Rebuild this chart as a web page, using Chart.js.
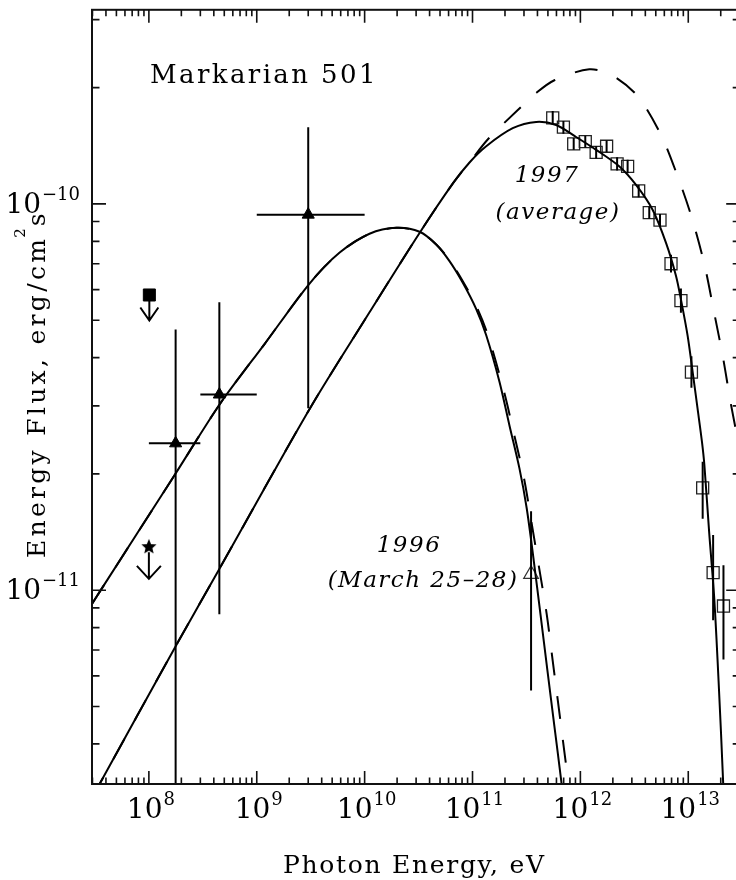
<!DOCTYPE html>
<html lang="en">
<head>
<meta charset="UTF-8">
<title>Markarian 501</title>
<script src="https://cdn.jsdelivr.net/npm/chart.js"></script>
<style>
  body { margin: 0; overflow: hidden; background: #fff; }
  #sed { display: block; }
</style>
</head>
<body>
<canvas id="sed" width="750" height="880"></canvas>
<script>
// ---- values ----
const xMajor = [1e8, 1e9, 1e10, 1e11, 1e12, 1e13];
const xMajorExp = ['8', '9', '10', '11', '12', '13'];
const yMajor = [1e-11, 1e-10];
const yMajorExp = ['\u221211', '\u221210'];

// model 1996, solid
const e96Solid = [2.96e7, 3.52e7, 1.74e8, 4.54e8, 1.19e9, 3.10e9, 5.87e9, 1.11e10, 1.97e10, 3.23e10, 4.61e10, 6.12e10, 8.13e10, 1.08e11, 1.34e11, 1.78e11, 2.20e11, 2.72e11, 3.18e11, 3.70e11, 4.27e11, 4.95e11, 5.74e11, 6.62e11, 6.97e11];
const f96Solid = [9.20e-12, 9.93e-12, 1.99e-11, 3.03e-11, 4.35e-11, 6.23e-11, 7.48e-11, 8.37e-11, 8.67e-11, 8.47e-11, 7.85e-11, 7.11e-11, 6.25e-11, 5.35e-11, 4.57e-11, 3.46e-11, 2.67e-11, 2.07e-11, 1.63e-11, 1.19e-11, 8.65e-12, 6.19e-12, 4.45e-12, 3.24e-12, 2.86e-12];
// model 1996, dashed
const e96Dash = [2.96e7, 3.52e7, 1.74e8, 4.54e8, 1.19e9, 3.10e9, 5.87e9, 1.11e10, 1.97e10, 3.23e10, 4.61e10, 6.12e10, 8.13e10, 1.08e11, 1.39e11, 1.94e11, 2.40e11, 3.00e11, 3.52e11, 4.17e11, 4.88e11, 5.54e11, 6.29e11, 7.11e11, 7.78e11, 8.07e11];
const f96Dash = [9.20e-12, 9.93e-12, 1.99e-11, 3.03e-11, 4.35e-11, 6.23e-11, 7.48e-11, 8.37e-11, 8.67e-11, 8.47e-11, 7.85e-11, 7.15e-11, 6.31e-11, 5.45e-11, 4.57e-11, 3.30e-11, 2.57e-11, 1.95e-11, 1.50e-11, 1.13e-11, 8.65e-12, 6.56e-12, 4.98e-12, 3.81e-12, 3.14e-12, 2.89e-12];

// model 1997, solid
const e97Solid = [2.96e7, 3.47e7, 1.74e8, 4.54e8, 3.10e9, 1.11e10, 3.23e10, 6.58e10, 9.38e10, 1.34e11, 2.36e11, 3.89e11, 5.96e11, 9.12e11, 1.40e12, 2.30e12, 3.28e12, 4.67e12, 6.22e12, 7.69e12, 8.55e12, 9.86e12, 1.10e13, 1.22e13, 1.34e13, 1.41e13, 1.56e13, 1.74e13, 1.91e13, 2.11e13, 2.16e13];
const f97Solid = [2.91e-12, 3.14e-12, 7.10e-12, 1.14e-11, 2.95e-11, 5.24e-11, 8.41e-11, 1.13e-10, 1.28e-10, 1.41e-10, 1.57e-10, 1.63e-10, 1.60e-10, 1.49e-10, 1.38e-10, 1.25e-10, 1.12e-10, 9.66e-11, 7.93e-11, 6.52e-11, 5.66e-11, 4.56e-11, 3.66e-11, 2.95e-11, 2.42e-11, 2.11e-11, 1.42e-11, 9.55e-12, 5.82e-12, 3.14e-12, 2.50e-12];
// model 1997, dashed
const e97Dash = [2.96e7, 3.47e7, 1.74e8, 4.54e8, 3.10e9, 1.11e10, 3.23e10, 6.58e10, 9.38e10, 1.39e11, 2.63e11, 3.83e11, 5.74e11, 1.21e12, 1.98e12, 3.40e12, 5.58e12, 7.96e12, 1.08e13, 1.41e13, 1.74e13, 2.11e13, 2.48e13, 3.03e13];
const f97Dash = [2.91e-12, 3.14e-12, 7.10e-12, 1.14e-11, 2.95e-11, 5.24e-11, 8.41e-11, 1.13e-10, 1.28e-10, 1.47e-10, 1.75e-10, 1.93e-10, 2.09e-10, 2.23e-10, 2.15e-10, 1.90e-10, 1.51e-10, 1.18e-10, 9.20e-11, 6.98e-11, 5.22e-11, 3.97e-11, 3.04e-11, 2.28e-11];

// 1997 TeV points (open squares)
const tevE = [5.54e11, 6.96e11, 8.67e11, 1.11e12, 1.40e12, 1.75e12, 2.19e12, 2.74e12, 3.47e12, 4.35e12, 5.47e12, 6.92e12, 8.55e12, 1.07e13, 1.36e13, 1.70e13, 2.12e13];
const tevF = [1.67e-10, 1.58e-10, 1.43e-10, 1.45e-10, 1.36e-10, 1.41e-10, 1.27e-10, 1.25e-10, 1.08e-10, 9.49e-11, 9.08e-11, 7.00e-11, 5.62e-11, 3.67e-11, 1.84e-11, 1.11e-11, 9.10e-12];
const tevHi = [1.74e-10, 1.64e-10, 1.48e-10, 1.50e-10, 1.41e-10, 1.46e-10, 1.32e-10, 1.30e-10, 1.12e-10, 9.85e-11, 9.42e-11, 7.38e-11, 6.04e-11, 4.03e-11, 2.15e-11, 1.39e-11, 1.16e-11];
const tevLo = [1.60e-10, 1.52e-10, 1.38e-10, 1.40e-10, 1.31e-10, 1.36e-10, 1.22e-10, 1.20e-10, 1.04e-10, 9.15e-11, 8.75e-11, 6.64e-11, 5.23e-11, 3.34e-11, 1.53e-11, 8.36e-12, 6.62e-12];

// 1996 TeV point (open triangle)
const tev96E = [3.49e11];
const tev96F = [1.10e-11];
const tev96Hi = [1.60e-11];
const tev96Lo = [5.50e-12];

// GeV points (filled triangles)
const gevE = [1.77e8, 4.5e8, 3.0e9];
const gevF = [2.40e-11, 3.21e-11, 9.38e-11];
const gevELo = [1.0e8, 3.0e8, 1.0e9];
const gevEHi = [3.0e8, 1.0e9, 1.0e10];
const gevHi = [4.73e-11, 5.56e-11, 1.58e-10];
const gevLo = [1.0e-13, 8.67e-12, 2.96e-11];

// upper limits (filled square, filled star)
const ulE = [1.01e8, 1.0e8];
const ulF = [5.81e-11, 1.30e-11];
const ulTip = [4.99e-11, 1.07e-11];

const SERIF = '"DejaVu Serif", "Liberation Serif", serif';

const toXY = (xs, ys) => xs.map((x, i) => ({ x: x, y: ys[i] }));

function makeStar(r) {
  const c = document.createElement('canvas');
  const s = Math.ceil(r * 2 + 2);
  c.width = s; c.height = s;
  const g = c.getContext('2d');
  g.translate(s / 2, s / 2 + 0.8);
  g.beginPath();
  for (let i = 0; i < 10; i++) {
    const rr = i % 2 ? r * 0.45 : r;
    const a = -Math.PI / 2 + i * Math.PI / 5;
    g.lineTo(rr * Math.cos(a), rr * Math.sin(a));
  }
  g.closePath();
  g.fillStyle = '#000';
  g.fill();
  return c;
}

// error bars and upper-limit arrows
const errorBars = {
  id: 'errorBars',
  afterDatasetsDraw(chart) {
    const { ctx, chartArea: a, scales: { x, y } } = chart;
    ctx.save();
    ctx.beginPath();
    ctx.rect(a.left, a.top, a.right - a.left, a.bottom - a.top);
    ctx.clip();
    ctx.strokeStyle = '#000';
    ctx.lineWidth = 2;
    ctx.beginPath();
    gevE.forEach((e, i) => {
      const px = x.getPixelForValue(e), py = y.getPixelForValue(gevF[i]);
      ctx.moveTo(px, y.getPixelForValue(gevHi[i]));
      ctx.lineTo(px, y.getPixelForValue(gevLo[i]));
      ctx.moveTo(x.getPixelForValue(gevELo[i]), py);
      ctx.lineTo(x.getPixelForValue(gevEHi[i]), py);
    });
    tevE.forEach((e, i) => {
      const px = x.getPixelForValue(e);
      ctx.moveTo(px, y.getPixelForValue(tevHi[i]));
      ctx.lineTo(px, y.getPixelForValue(tevLo[i]));
    });
    tev96E.forEach((e, i) => {
      const px = x.getPixelForValue(e);
      ctx.moveTo(px, y.getPixelForValue(tev96Hi[i]));
      ctx.lineTo(px, y.getPixelForValue(tev96Lo[i]));
    });
    ctx.stroke();

    // arrows below the upper limits
    const meta = chart.getDatasetMeta(7);
    const heads = [[9, 13], [12, 13]];
    ctx.beginPath();
    meta.data.forEach((pt, i) => {
      const tip = y.getPixelForValue(ulTip[i]);
      ctx.moveTo(pt.x, pt.y + 6);
      ctx.lineTo(pt.x, tip);
      ctx.moveTo(pt.x - heads[i][0], tip - heads[i][1]);
      ctx.lineTo(pt.x, tip);
      ctx.lineTo(pt.x + heads[i][0], tip - heads[i][1]);
    });
    ctx.stroke();
    ctx.restore();
  }
};

function drawPow(ctx, exp, x, baseline, align) {
  ctx.font = '28px ' + SERIF;
  const w1 = ctx.measureText('10').width;
  ctx.font = '18px ' + SERIF;
  const w2 = ctx.measureText(exp).width;
  const total = w1 + 1 + w2;
  const left = align === 'center' ? x - total / 2 : x - total;
  ctx.font = '28px ' + SERIF;
  ctx.fillText('10', left, baseline);
  ctx.font = '18px ' + SERIF;
  ctx.fillText(exp, left + w1 + 1, baseline - 13);
}

// frame, inward ticks, labels and annotations
const frame = {
  id: 'frame',
  afterDraw(chart) {
    const { ctx, chartArea: a, scales: { x, y } } = chart;
    ctx.save();
    ctx.strokeStyle = '#111';
    ctx.lineWidth = 2;
    ctx.strokeRect(a.left, a.top, a.right - a.left, a.bottom - a.top);

    ctx.lineWidth = 1.6;
    ctx.beginPath();
    for (let d = 1e7; d <= 1e13; d *= 10) {
      for (let k = 1; k <= 9; k++) {
        const v = k * d;
        if (v <= x.min || v >= x.max) continue;
        const px = x.getPixelForValue(v);
        const len = k === 1 ? 13 : 6.5;
        ctx.moveTo(px, a.bottom); ctx.lineTo(px, a.bottom - len);
        ctx.moveTo(px, a.top); ctx.lineTo(px, a.top + len);
      }
    }
    for (let d = 1e-12; d <= 1e-10; d *= 10) {
      for (let k = 1; k <= 9; k++) {
        const v = k * d;
        if (v <= y.min || v >= y.max) continue;
        const py = y.getPixelForValue(v);
        const len = k === 1 ? 14 : 7.5;
        ctx.moveTo(a.left, py); ctx.lineTo(a.left + len, py);
        ctx.moveTo(a.right, py); ctx.lineTo(a.right - len, py);
      }
    }
    ctx.stroke();

    ctx.fillStyle = '#000';
    ctx.textBaseline = 'alphabetic';
    ctx.textAlign = 'left';
    ctx.letterSpacing = '0px';
    xMajor.forEach((v, i) => drawPow(ctx, xMajorExp[i], x.getPixelForValue(v) + 2, 818, 'center'));
    yMajor.forEach((v, i) => drawPow(ctx, yMajorExp[i], 80, y.getPixelForValue(v) + 9, 'right'));

    ctx.letterSpacing = '2.4px';
    ctx.font = '26px ' + SERIF;
    ctx.fillText('Markarian 501', 150, 83);

    ctx.letterSpacing = '1.7px';
    ctx.font = '25px ' + SERIF;
    ctx.fillText('Photon Energy, eV', 283, 873);

    ctx.save();
    ctx.translate(45, 558);
    ctx.rotate(-Math.PI / 2);
    ctx.letterSpacing = '3.3px';
    ctx.font = '25px ' + SERIF;
    const p1 = 'Energy Flux, erg/cm';
    const w1 = ctx.measureText(p1).width;
    ctx.fillText(p1, 0, 0);
    ctx.letterSpacing = '0px';
    ctx.font = '15px ' + SERIF;
    const w2 = ctx.measureText('2').width;
    ctx.fillText('2', w1 - 2, -20);
    ctx.font = '25px ' + SERIF;
    ctx.fillText('s', w1 + w2, 0);
    ctx.restore();

    ctx.letterSpacing = '1.5px';
    ctx.font = 'italic 23px ' + SERIF;
    ctx.textAlign = 'center';
    ctx.fillText('1997', 547, 182);
    ctx.fillText('(average)', 558, 219);
    ctx.fillText('1996', 409, 552);
    ctx.fillText('(March 25\u201328)', 423, 587);
    ctx.restore();
  }
};

function draw() {
  const star = makeStar(8);
  const solid = { borderColor: '#000', borderWidth: 2, pointRadius: 0, fill: false, tension: 0.3 };
  const dashed = Object.assign({}, solid, { borderDash: [23, 21] });

  new Chart(document.getElementById('sed'), {
    type: 'line',
    data: {
      datasets: [
        Object.assign({ data: toXY(e96Solid, f96Solid) }, solid),
        Object.assign({ data: toXY(e96Dash, f96Dash) }, dashed),
        Object.assign({ data: toXY(e97Solid, f97Solid) }, solid),
        Object.assign({ data: toXY(e97Dash, f97Dash) }, dashed),
        { data: toXY(tevE, tevF), showLine: false, pointStyle: 'rect', pointRadius: 8.5,
          borderColor: '#222', borderWidth: 1.3, backgroundColor: 'rgba(0,0,0,0)' },
        { data: toXY(tev96E, tev96F), showLine: false, pointStyle: 'triangle', pointRadius: 8.5,
          borderColor: '#333', borderWidth: 1.2, backgroundColor: 'rgba(0,0,0,0)' },
        { data: toXY(gevE, gevF), showLine: false, pointStyle: 'triangle', pointRadius: 7,
          borderColor: '#000', borderWidth: 1, backgroundColor: '#000' },
        { data: toXY(ulE, ulF), showLine: false, pointStyle: ['rect', star], pointRadius: 8.5,
          borderColor: '#000', borderWidth: 1, backgroundColor: '#000' }
      ]
    },
    options: {
      responsive: false,
      animation: false,
      layout: { padding: { left: 92, top: 6, right: 9, bottom: 96 } },
      plugins: { legend: { display: false }, tooltip: { enabled: false } },
      scales: {
        x: { type: 'logarithmic', min: 2.97e7, max: 3.03e13, bounds: 'data', display: false },
        y: { type: 'logarithmic', min: 3.15e-12, max: 3.18e-10, bounds: 'data', display: false }
      }
    },
    plugins: [errorBars, frame]
  });
}

if (document.fonts && document.fonts.load) {
  Promise.all([
    document.fonts.load('28px "DejaVu Serif"'),
    document.fonts.load('italic 23px "DejaVu Serif"')
  ]).then(draw, draw);
} else {
  draw();
}
</script>
</body>
</html>
